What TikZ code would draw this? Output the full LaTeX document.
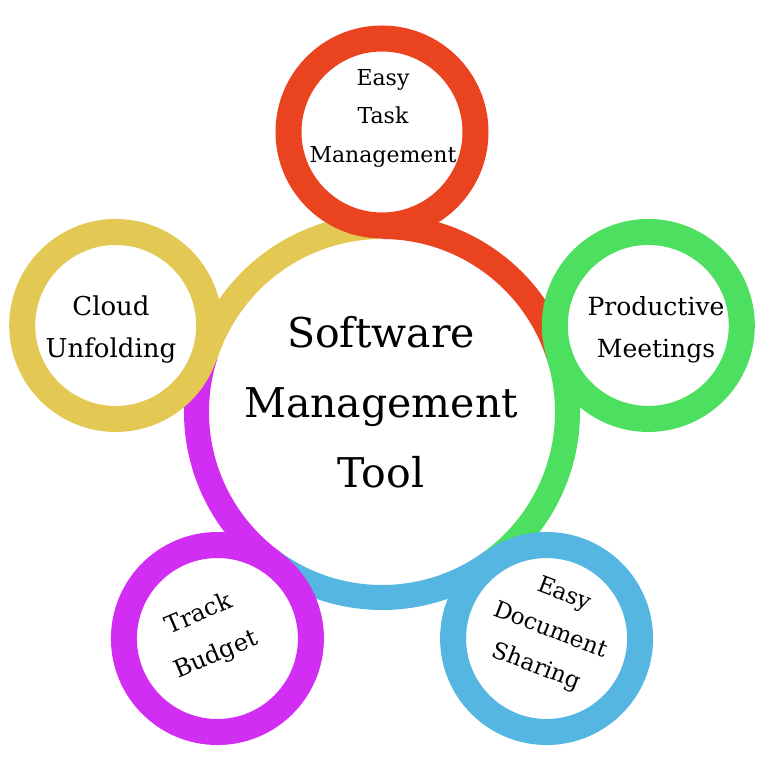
\documentclass[tikz,border=0pt]{standalone}
\usepackage{fontspec}
\setmainfont{DejaVu Serif}
\usetikzlibrary{calc}
\definecolor{ringred}{HTML}{E9431F}
\definecolor{ringgreen}{HTML}{4DDF5F}
\definecolor{ringblue}{HTML}{55B6E2}
\definecolor{ringmagenta}{HTML}{D22DF2}
\definecolor{ringyellow}{HTML}{E3C854}
\begin{document}
\begin{tikzpicture}[x=1pt,y=1pt,
  band/.style={line width=25pt, line cap=butt},
  bubble/.style={circle, draw, line width=26pt, fill=white, minimum size=187pt, inner sep=0pt},
  lbl/.style={align=center, inner sep=0pt, font=\fontsize{24}{42}\selectfont}]
\useasboundingbox (0,0) rectangle (768,768);
\coordinate (C) at (382,356);
% coloured bands of the hub, each running clockwise from its own bubble to the next one
\draw[band, ringred]     ($(C)+(90:185.5)$)   arc[start angle=90,   end angle=18,   radius=185.5];
\draw[band, ringgreen]   ($(C)+(18:185.5)$)   arc[start angle=18,   end angle=-54,  radius=185.5];
\draw[band, ringblue]    ($(C)+(-54:185.5)$)  arc[start angle=-54,  end angle=-126, radius=185.5];
\draw[band, ringmagenta] ($(C)+(-126:185.5)$) arc[start angle=-126, end angle=-198, radius=185.5];
\draw[band, ringyellow]  ($(C)+(162:185.5)$)  arc[start angle=162,  end angle=90,   radius=185.5];
% the five bubbles around the hub
\node[bubble, draw=ringred]     (task)   at ($(C)+(90:280)$)   {};
\node[bubble, draw=ringgreen]   (meet)   at ($(C)+(18:280)$)   {};
\node[bubble, draw=ringblue]    (docs)   at ($(C)+(-54:280)$)  {};
\node[bubble, draw=ringmagenta] (budget) at ($(C)+(-126:280)$) {};
\node[bubble, draw=ringyellow]  (cloud)  at ($(C)+(162:280)$)  {};
% labels
\node[align=center, inner sep=0pt, font=\fontsize{41}{70}\selectfont] (hub) at (381,365.5) {Software\\Management\\Tool};
\node[lbl, font=\fontsize{22}{38.5}\selectfont] (tasktext) at (383,650) {Easy\\Task\\Management};
\node[lbl, font=\fontsize{25}{42}\selectfont] (meettext) at (656,438) {Productive\\Meetings};
\node[lbl, font=\fontsize{26}{42}\selectfont] (cloudtext) at (111,438) {Cloud\\Unfolding};
\node[lbl, font=\fontsize{24}{44}\selectfont, rotate=23] (budgettext) at (207.5,133) {Track\\Budget};
\node[lbl, font=\fontsize{23}{39}\selectfont, rotate=-21] (docstext) at (550,137) {Easy\\Document\\Sharing};
\end{tikzpicture}
\end{document}
